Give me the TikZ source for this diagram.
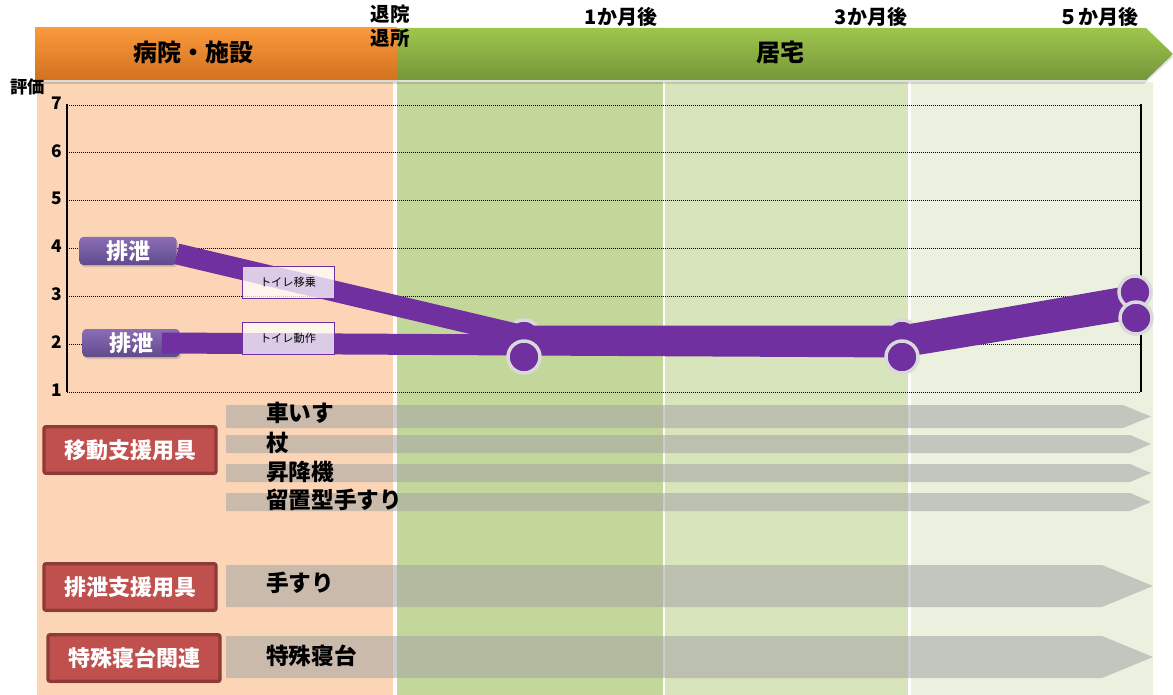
\documentclass[tikz,border=0pt]{standalone}
\usepackage{fontspec}
\setmainfont{Noto Sans CJK JP}
\usetikzlibrary{positioning,shadows,calc}

\definecolor{hospbg}{HTML}{FBD5B5}
\definecolor{homeA}{HTML}{C4D79B}
\definecolor{homeB}{HTML}{D8E4BC}
\definecolor{homeC}{HTML}{EBF1DE}
\definecolor{orgtop}{HTML}{FA9A3C}
\definecolor{orgbot}{HTML}{D2711F}
\definecolor{grntop}{HTML}{9EC64C}
\definecolor{grnbot}{HTML}{76963A}
\definecolor{plum}{HTML}{7030A0}
\definecolor{markgrey}{HTML}{D9D9D9}
\definecolor{evtop}{HTML}{8C6DB6}
\definecolor{evbot}{HTML}{5F4A8B}
\definecolor{catred}{HTML}{C0504D}
\definecolor{catdark}{HTML}{8E3A38}
\definecolor{aidgrey}{RGB}{165,165,165}

\begin{document}
\begin{tikzpicture}
[x=0.75pt,y=-0.75pt,
gridln/.style={densely dotted,line width=0.5pt},
trend/.style={draw=plum,line width=15.75pt},
ptmark/.style={circle,fill=plum,draw=markgrey,line width=2.6pt,minimum size=24pt,inner sep=0pt},
evlab/.style={rounded corners=3pt,top color=evtop,bottom color=evbot,text=white,inner sep=0pt,
  font=\fontsize{16.5}{18}\selectfont\bfseries,minimum width=73pt,minimum height=21pt,
  drop shadow={opacity=0.3,shadow xshift=1pt,shadow yshift=-1.5pt}},
acttag/.style={draw=plum,line width=0.6pt,fill=white,fill opacity=0.75,
  text opacity=1,minimum width=69pt,minimum height=24pt,inner sep=0pt,font=\fontsize{8.4}{10}\selectfont},
catbox/.style={fill=catred,draw=catdark,line width=2.4pt,rounded corners=1.5pt,text=white,inner sep=0pt,
  font=\fontsize{16.5}{18}\selectfont\bfseries,minimum width=129pt,minimum height=35pt,
  drop shadow={opacity=0.25,shadow xshift=1pt,shadow yshift=-1.5pt}},
devtxt/.style={anchor=west,inner sep=0pt,font=\fontsize{17}{19}\selectfont\bfseries},
aid/.style={fill=aidgrey,fill opacity=0.56},
toplab/.style={inner sep=0pt,font=\fontsize{15}{16}\selectfont\bfseries},
axnum/.style={inner sep=0pt,font=\fontsize{13}{14}\selectfont\bfseries}]

\useasboundingbox (0,0) rectangle (1173,695);

% background periods
\fill[hospbg] (37,82) rectangle (393,695);
\fill[homeA] (397,82) rectangle (663,695);
\fill[homeB] (665,82) rectangle (908,695);
\fill[homeC] (911,82) rectangle (1153,695);

% header bars
\fill[black,opacity=0.15] (37,31) rectangle (399,84);
\shade[top color=orgtop,bottom color=orgbot] (35,28) rectangle (397,80);
\fill[black,opacity=0.12] (399,31) -- (1144,31) -- (1173,57) -- (1144,84) -- (399,84) -- cycle;
\shade[top color=grntop,bottom color=grnbot] (397,28) -- (1146,28) -- (1173,54) -- (1146,80) -- (397,80) -- cycle;
\node[font=\fontsize{18}{20}\selectfont\bfseries] (hosp) at (193,52) {病院・施設};
\node[font=\fontsize{18}{20}\selectfont\bfseries] (home) at (780,52) {居宅};

% time marks
\node[toplab,font=\fontsize{14.6}{16}\selectfont\bfseries,align=center] (dis) at (390,26) {退院\\[2pt]退所};
\node[toplab] (m1) at (621,17) {1か月後};
\node[toplab] (m3) at (871,17) {3か月後};
\node[toplab] (m5) at (1098,17) {５か月後};

% axis
\node[inner sep=0pt,font=\fontsize{13}{14}\selectfont\bfseries] (score) at (28,87) {評価};
\foreach \v in {1,...,7}{
  \draw[gridln] (67,{105+(7-\v)*47.83}) -- (1141,{105+(7-\v)*47.83});
  \node[axnum] (ax\v) at (57,{103+(7-\v)*47.83}) {\v};
}
\draw[line width=1pt] (67,104) -- (67,392);
\draw[line width=1.5pt] (1141,104) -- (1141,392);

% evaluation lines
\node[evlab] (ev1) at (128,251) {排泄};
\node[evlab] (ev2) at (131,343) {排泄};
\coordinate (p1a) at (524,336);
\coordinate (p1b) at (902,336);
\coordinate (p1c) at (1137,295);
\coordinate (p2a) at (524,345);
\coordinate (p2b) at (902,347);
\coordinate (p2c) at (1137,308);
\node[ptmark] (k1a) at (524,336) {};
\node[ptmark] (k1b) at (902,336) {};
\draw[trend] ([yshift=-2.2pt]ev1.east) -- (p1a) -- (p1b) -- (p1c);
\draw[trend] ([xshift=-13.5pt]ev2.east) -- (p2a) -- (p2b) -- (p2c);
\node[ptmark] (k1c) at (1135,292) {};
\node[ptmark] (k2a) at (524,357) {};
\node[ptmark] (k2b) at (902,357) {};
\node[ptmark] (k2c) at (1136,318) {};
\node[acttag] (tag1) at (288,282) {トイレ移乗};
\node[acttag] (tag2) at (288,338) {トイレ動作};

% support items
\foreach \yt/\yb/\xb/\xt/\ty/\lbl/\nm in {405/428/1123/1151/413/車いす/chair,
    435/453/1130/1151/443/杖/cane, 464/482/1130/1151/472/昇降機/lift,
    493/511/1130/1151/500/留置型手すり/frame, 565/607/1102/1153/583/手すり/rail,
    636/678/1102/1153/656/特殊寝台/bed}{
  \fill[aid] (226,\yt) -- (\xb,\yt) -- (\xt,{(\yt+\yb)/2}) -- (\xb,\yb) -- (226,\yb) -- cycle;
  \node[devtxt] (aid-\nm) at (266,\ty) {\lbl};
}
\node[catbox] (move) at (130,450) {移動支援用具};
\node[catbox] (toilet) at (130,587) {排泄支援用具};
\node[catbox] (bedcat) at (134,658) {特殊寝台関連};
\end{tikzpicture}
\end{document}
